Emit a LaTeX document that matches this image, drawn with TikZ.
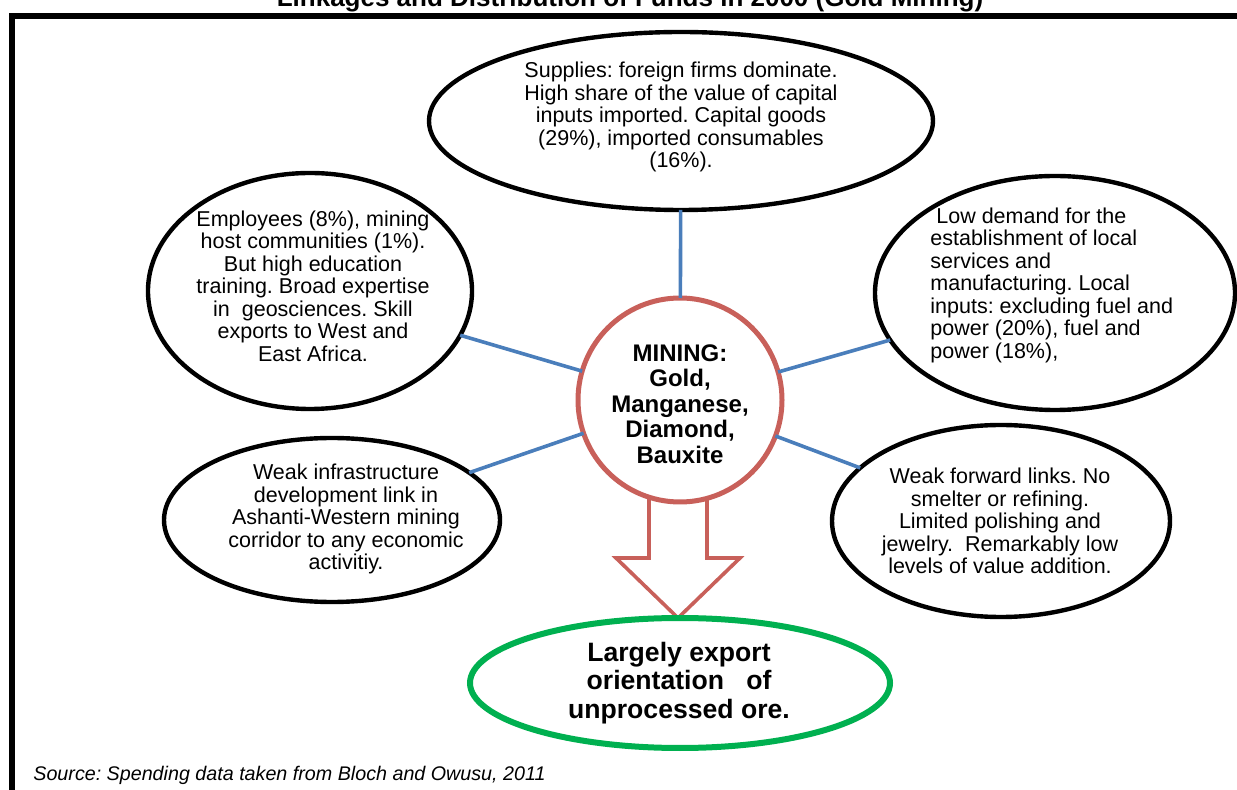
\documentclass[tikz,border=0pt]{standalone}
\usepackage{fontspec}
\setmainfont{Liberation Sans}
\usetikzlibrary{shapes.geometric,calc}
\definecolor{minered}{RGB}{200,96,90}
\definecolor{linkblue}{RGB}{74,126,187}
\definecolor{exportgreen}{RGB}{0,176,80}
\pgfdeclarelayer{bg}
\pgfsetlayers{bg,main}
\frenchspacing
\begin{document}
\begin{tikzpicture}[x=0.5pt,y=-0.5pt,
    bubble/.style={ellipse,draw,line width=2.2pt,fill=white,inner sep=0pt,outer sep=0pt},
    txt/.style={inner sep=0pt,align=center,font=\fontsize{10.75}{11.25}\selectfont},
    link/.style={linkblue,line width=1.8pt},
    pointer/.style={minered,line width=1.8pt,fill=white,line join=miter}]
  \useasboundingbox (0,0) rectangle (1237,790);
  % frame and title
  \draw[line width=3.2pt] (12,795) -- (12,16) -- (1245,16);
  \node[anchor=base,inner sep=0pt,font=\bfseries\fontsize{13}{15}\selectfont] (title) at (630,7)
    {Linkages and Distribution of Funds in 2000 (Gold Mining)};
  % ellipses
  \node[bubble,minimum width=252pt,minimum height=89pt] (sup) at (681,121) {};
  \node[bubble,minimum width=162pt,minimum height=118pt] (emp) at (310,291) {};
  \node[bubble,minimum width=180pt,minimum height=117pt] (dem) at (1055,293) {};
  \node[bubble,minimum width=168pt,minimum height=82pt] (inf) at (332,520) {};
  \node[bubble,minimum width=169pt,minimum height=96pt] (fwd) at (1001,521) {};
  \node[bubble,draw=exportgreen,line width=3pt,minimum width=210pt,minimum height=65pt] (export) at (680,683) {};
  \node[circle,draw=minered,line width=2.5pt,fill=white,inner sep=0pt,outer sep=0pt,minimum size=102pt] (mine) at (680,400) {};
  % connectors
  \foreach \n in {sup,emp,dem,inf,fwd}
    \draw[link] (mine) -- (\n);
  \coordinate (tip) at ($(export.north)+(-2,0)$);
  \begin{pgfonlayer}{bg}
    \draw[pointer] ($(mine.south)+(-31,-20)$) -- ($(tip)+(-29,-60)$) -- ($(tip)+(-62,-60)$) -- (tip)
      -- ($(tip)+(62,-60)$) -- ($(tip)+(29,-60)$) -- ($(mine.south)+(27,-20)$);
  \end{pgfonlayer}
  % texts
  \node[txt] (sup-t) at (681,117) {Supplies: foreign firms dominate.\\High share of the value of capital\\inputs imported. Capital goods\\(29\%), imported consumables\\(16\%).};
  \node[txt] (emp-t) at (313,286) {Employees (8\%), mining\\host communities (1\%).\\But high education\\training. Broad expertise\\in\ \ geosciences. Skill\\exports to West and\\East Africa.};
  \node[txt,align=left,anchor=west] (dem-t) at (930,285) {\ Low demand for the\\establishment of local\\services and\\manufacturing. Local\\inputs: excluding fuel and\\power (20\%), fuel and\\power (18\%),};
  \node[txt] (inf-t) at (346,519) {Weak infrastructure\\development link in\\Ashanti-Western mining\\corridor to any economic\\activitiy.};
  \node[txt] (fwd-t) at (1000,521) {Weak forward links. No\\smelter or refining.\\Limited polishing and\\jewelry.\ \ Remarkably low\\levels of value addition.};
  \node[txt,font=\bfseries\fontsize{12}{12.8}\selectfont] (mine-t) at (680,404) {MINING:\\Gold,\\Manganese,\\Diamond,\\Bauxite};
  \node[txt,font=\bfseries\fontsize{13.3}{14.3}\selectfont] (export-t) at (679,683) {Largely export\\orientation\ \ \ of\\unprocessed ore.};
  \node[anchor=base west,inner sep=0pt,font=\itshape\fontsize{9.85}{11}\selectfont] (source) at (33,780)
    {Source: Spending data taken from Bloch and Owusu, 2011};
\end{tikzpicture}
\end{document}
